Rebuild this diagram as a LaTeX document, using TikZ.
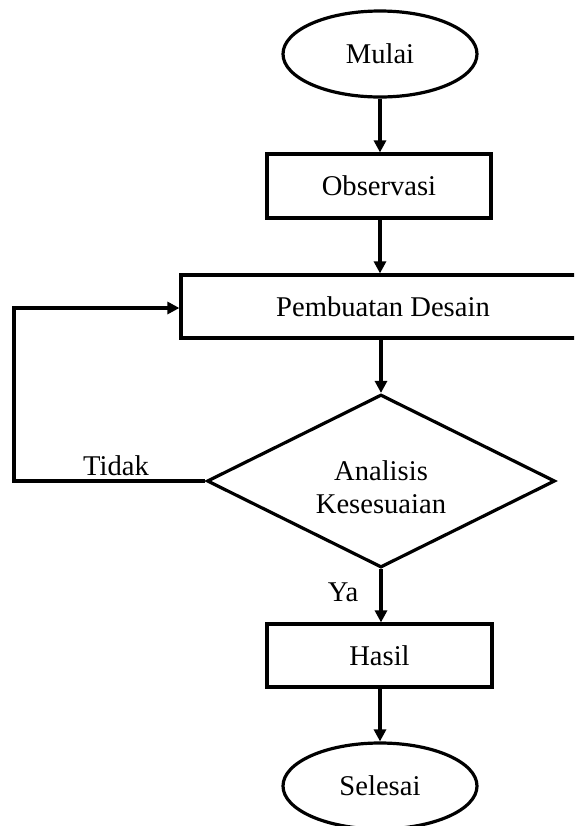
\documentclass[tikz,border=0pt]{standalone}
\usepackage{fontspec}
\setmainfont{Liberation Serif}
\usetikzlibrary{shapes.geometric,arrows.meta}
\begin{document}
\begin{tikzpicture}[x=0.5pt,y=-0.5pt,
  every node/.style={font=\fontsize{14.3pt}{16.5pt}\selectfont},
  box/.style={draw,line width=1.6pt,rectangle,inner sep=0pt},
  term/.style={draw,line width=1.6pt,ellipse,inner sep=0pt,minimum width=97pt,minimum height=43pt},
  dec/.style={draw,line width=1.6pt,diamond,inner sep=0pt,minimum width=174pt,minimum height=86.5pt},
  flow/.style={line width=1.6pt,-{Triangle[length=6pt,width=6pt]}},
  lbl/.style={inner sep=0pt}]
\useasboundingbox (0,0) rectangle (574,826);
\begin{scope}
\clip (0,0) rectangle (574,826);
\node[term] (mulai) at (380,54) {Mulai};
\node[box,minimum width=112pt,minimum height=32pt] (obs) at (379,186) {Observasi};
\node[box,minimum width=199pt,minimum height=31.5pt] (pd) at (380,306.5) {\hspace*{3pt}Pembuatan Desain};
\node[dec,label={[align=center,yshift=-3pt]center:Analisis\\Kesesuaian}] (dia) at (381,481) {};
\node[box,minimum width=112.5pt,minimum height=31.5pt] (hasil) at (379.5,655.5) {Hasil};
\node[term] (selesai) at (380,786) {Selesai};
\coordinate (c1) at (14,481);
\coordinate (c2) at (14,308);
\draw[flow] (mulai.south) -- (mulai.south |- obs.north);
\draw[flow] (obs.south -| mulai.south) -- (mulai.south |- pd.north);
\draw[flow] (pd.south -| dia.north) -- (dia.north);
\draw[flow] (dia.south) -- (dia.south |- hasil.north);
\draw[flow] (hasil.south -| selesai.north) -- (selesai.north);
\draw[flow] (dia.west) -- (c1) -- (c2) -- (c2 -| pd.west);
\node[lbl] (tidak) at (116,466) {Tidak};
\node[lbl] (ya) at (343,592) {Ya};
\end{scope}
\end{tikzpicture}
\end{document}
